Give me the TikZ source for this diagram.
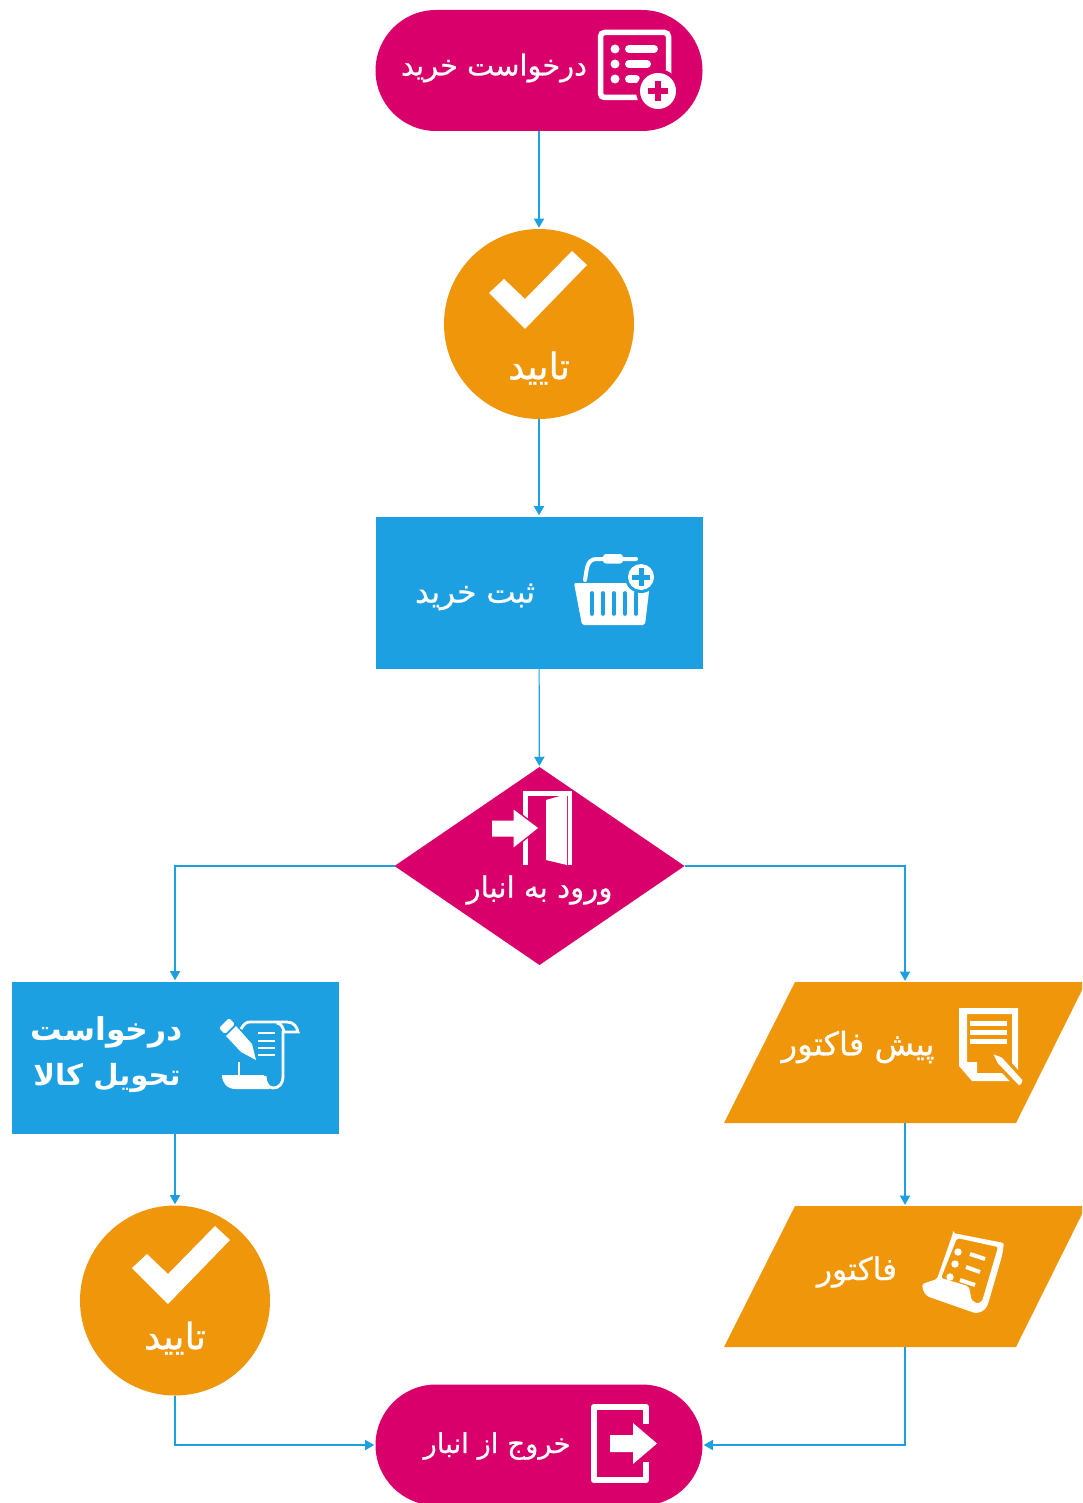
\documentclass[tikz,border=0pt]{standalone}
\usepackage{graphicx}
\usepackage{fontspec}
\usetikzlibrary{arrows.meta,shapes.geometric,shapes.misc,calc}
\TeXXeTstate=1
\newfontfamily\arabicfont[Script=Arabic,FakeBold=0.6]{DejaVu Sans}
\newfontfamily\arabicbold[Script=Arabic]{DejaVu Sans Bold}
\newlength\pxu
\setlength\pxu{0.02cm}
\definecolor{mag}{HTML}{D9006C}
\definecolor{org}{HTML}{F0960A}
\definecolor{blu}{HTML}{1CA0E2}
\newcommand\fa[2]{\resizebox{#1\pxu}{!}{\arabicfont #2}}
\newcommand\faB[2]{\resizebox{#1\pxu}{!}{\arabicbold #2}}
\tikzset{
  pill/.style={rounded rectangle,fill=mag,minimum width=327\pxu,minimum height=121\pxu,inner sep=0,outer sep=0},
  okcircle/.style={circle,fill=org,minimum size=190\pxu,inner sep=0,outer sep=0},
  bluerect/.style={rectangle,fill=blu,minimum width=327\pxu,minimum height=152\pxu,inner sep=0,outer sep=0},
  magdiamond/.style={diamond,fill=mag,minimum width=290\pxu,minimum height=198\pxu,aspect=1.46,inner sep=0,outer sep=0},
  parabox/.style={rectangle,minimum width=362\pxu,minimum height=141\pxu,inner sep=0,outer sep=0},
  label/.style={text=white,inner sep=0,outer sep=0},
  conn/.style={draw=blu,line width=0.65pt,shorten >=0.7pt,-{Triangle[length=5.2pt,width=5.8pt]}},
  icl/.style={draw=white,fill=none}
}
\begin{document}
\begin{tikzpicture}[x=0.02cm,y=-0.02cm]
\useasboundingbox (0,0) rectangle (1082,1503);
\clip (0,0) rectangle (1082,1503);
\fill[white] (0,0) rectangle (1082,1503);

% shapes
\node[pill] (req) at (539,70.5) {};
\node[okcircle] (ok1) at (539,324) {};
\node[bluerect] (reg) at (539,592.5) {};
\node[magdiamond] (ent) at (539.5,866) {};
\node[bluerect] (deliv) at (175,1057.5) {};
\node[okcircle] (ok2) at (175,1300.5) {};
\node[parabox] (pre) at (905,1052.5) {};
\node[parabox] (inv) at (905,1276.5) {};
\node[pill] (out) at (539,1445) {};
\foreach \n in {pre,inv}
  \fill[org] ([xshift=71\pxu]\n.north west) -- (\n.north east) -- ([xshift=-70\pxu]\n.south east) -- (\n.south west) -- cycle;

% connectors
\draw[conn] (req) -- (ok1);
\draw[conn] (ok1) -- (reg);
\draw[conn] (reg) -- (ent);
\draw[conn] (ent.west) -| (deliv.north);
\draw[conn] (ent.east) -| (pre.north);
\draw[conn] (deliv) -- (ok2);
\draw[conn] (pre) -- (inv);
\draw[conn] (ok2.south) |- (out.west);
\draw[conn] (inv.south) |- (out.east);

% labels
\node[label] (t1) at (494,68) {\fa{186}{\beginR درخواست خرید\endR}};
\node[label] (t2) at (539,368) {\fa{62}{\beginR تایید\endR}};
\node[label] (t3) at (475,597) {\fa{120}{\beginR ثبت خرید\endR}};
\node[label] (t4) at (539.5,890) {\fa{146}{\beginR ورود به انبار\endR}};
\node[label] (t5) at (107,1032) {\faB{152}{\beginR درخواست\endR}};
\node[label] (t6) at (107,1078) {\faB{147}{\beginR تحویل کالا\endR}};
\node[label] (t7) at (858,1047) {\fa{153}{\beginR پیش فاکتور\endR}};
\node[label] (t8) at (857,1272) {\fa{80}{\beginR فاکتور\endR}};
\node[label] (t9) at (175,1338) {\fa{62}{\beginR تایید\endR}};
\node[label] (t10) at (497,1446) {\fa{147}{\beginR خروج از انبار\endR}};

% icon: list with plus
\draw[icl,line width=5.5\pxu,rounded corners=4\pxu] (600.5,32.5) rectangle (668.5,97.5);
\foreach \y/\e in {49/654,64/647,79/636}{
  \fill[white] (615,\y) circle (4.5\pxu);
  \draw[white,line width=8\pxu,line cap=round] (629,\y) -- (\e,\y);
}
\fill[mag] (658,91) circle (22\pxu);
\fill[white] (658,91) circle (18\pxu);
\draw[mag,line width=6.5\pxu] (648,91) -- (668,91) (658,81) -- (658,101);

% ticks
\fill[white] (489,293) -- (504,279) -- (525,299) -- (572,251) -- (587,265) -- (525,329) -- cycle;
\fill[white] (132,1268) -- (147,1254) -- (168,1274) -- (215,1226) -- (230,1240) -- (168,1304) -- cycle;

% icon: basket
\draw[icl,line width=4\pxu,line cap=round] (585,580) .. controls (587,570) and (586,559) .. (597,559) -- (636,559);
\fill[white,rounded corners=3\pxu] (603,554) rectangle (623,563.5);
\fill[white,rounded corners=2\pxu] (574,583) -- (650,583) -- (645,625) -- (582,625) -- cycle;
\foreach \x in {592,603,614,625,636}
  \draw[blu,line width=3.6\pxu,line cap=round] (\x,593) -- (\x,614);
\fill[blu] (641,577) circle (16\pxu);
\fill[white] (641,577) circle (13\pxu);
\draw[blu,line width=5\pxu] (632,577) -- (650,577) (641,568) -- (641,586);

% icon: door in
\draw[white,line width=4.5\pxu] (525.5,865) -- (525.5,793.5) -- (570,793.5) -- (570,865);
\fill[white] (546,800) -- (567,794) -- (567,865) -- (546,860) -- cycle;
\filldraw[fill=white,draw=mag,line width=3\pxu,line join=miter] (491,820) -- (513,820) -- (513,809) -- (538,828) -- (513,848) -- (513,837) -- (491,837) -- cycle;
\fill[white] (492,820.5) -- (513.5,820.5) -- (513.5,809.5) -- (538,828) -- (513.5,847.5) -- (513.5,836.5) -- (492,836.5) -- cycle;

% icon: scroll with pen
\fill[white,rounded corners=1.5\pxu] (219,1028) -- (229,1018) -- (235,1024) -- (225,1034) -- cycle;
\fill[white] (226,1036) -- (236,1026) -- (252,1044) -- (256,1060) -- (241,1052) -- cycle;
\draw[icl,line width=2.8\pxu] (241,1029) .. controls (244,1024) and (246,1022) .. (250,1022) -- (287,1022) .. controls (294,1022) and (297,1027) .. (298,1032) -- (284,1032) .. controls (283,1028) and (282,1024) .. (277,1023);
\draw[icl,line width=2.8\pxu] (283,1031) -- (283,1076) .. controls (283,1084) and (279,1088) .. (273,1088) .. controls (268,1088) and (265,1082) .. (265,1076);
\fill[white] (222,1075) -- (264,1075) .. controls (264,1081) and (266,1086) .. (270,1089) -- (236,1089) .. controls (227,1089) and (222,1083) .. (222,1075) -- cycle;
\draw[icl,line width=2.5\pxu] (239,1062) -- (239,1075);
\foreach \y in {1033,1041,1048,1055}
  \draw[white,line width=2.4\pxu] (258,\y) -- (275,\y);

% icon: document with pencil
\fill[white,even odd rule] (959,1008) -- (1018,1008) -- (1018,1081) -- (972,1081) -- (959,1066) -- cycle
  (967,1014) -- (967,1062) -- (977,1062) -- (977,1073) -- (1012,1073) -- (1012,1014) -- cycle;
\foreach \y in {1023,1032,1041}
  \draw[white,line width=5\pxu] (970,\y) -- (1007,\y);
\filldraw[fill=white,draw=org,line width=3.5\pxu,line join=round] (990,1051) -- (1003,1056) -- (1024,1079) -- (1024,1082) .. controls (1023,1086) and (1020,1088) .. (1017,1086) -- (996,1064) -- cycle;

% icon: invoice
\fill[white,rounded corners=2\pxu,even odd rule] (953,1233) -- (1004,1243) -- (1002,1256) -- (988,1304) .. controls (985,1311) and (978,1314) .. (972,1312) -- (932,1298) .. controls (926,1296) and (923,1292) .. (922,1284) -- (937,1279) -- (953,1233) -- cycle
  (957,1238) -- (941,1278) -- (968,1286) .. controls (971,1292) and (970,1298) .. (974,1302) .. controls (979,1304) and (982,1301) .. (983,1298) -- (998,1247) -- cycle;
\foreach \x/\y in {958/1252,955/1264,950/1277}
  \fill[white] (\x,\y) circle (3.7\pxu);
\foreach \a/\b/\c/\d in {970/1254/985/1259,966/1267/980/1272,960/1280/975/1285}
  \draw[white,line width=4\pxu] (\a,\b) -- (\c,\d);

% icon: door out
\draw[white,line width=6.5\pxu,line join=round] (646,1424) -- (646,1407) -- (594,1407) -- (594,1480) -- (646,1480) -- (646,1462);
\fill[white] (610,1435) -- (633,1435) -- (633,1423) -- (657,1443.5) -- (633,1464) -- (633,1452) -- (610,1452) -- cycle;
\end{tikzpicture}
\end{document}
